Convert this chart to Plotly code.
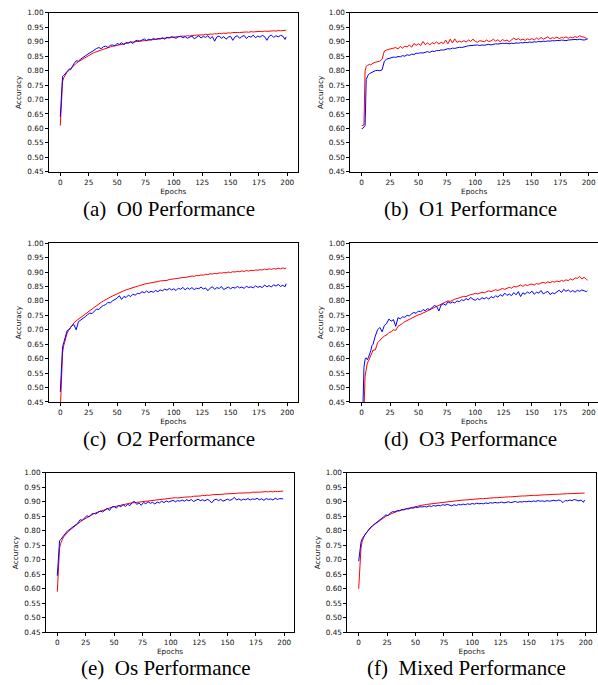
import plotly.graph_objects as go

epochs = list(range(0, 10)) + list(range(10, 200, 2)) + [199]

captions = ["(a)\u00a0 O0 Performance", "(b)\u00a0 O1 Performance", "(c)\u00a0 O2 Performance",
            "(d)\u00a0 O3 Performance", "(e)\u00a0 Os Performance", "(f)\u00a0 Mixed Performance"]

o0_red = [0.610, 0.720, 0.762, 0.775, 0.783, 0.790, 0.795, 0.799, 0.803, 0.807,
          0.811, 0.818, 0.825, 0.831, 0.836, 0.842, 0.847, 0.851, 0.855, 0.859,
          0.863, 0.866, 0.869, 0.872, 0.875, 0.878, 0.880, 0.882, 0.884, 0.886,
          0.888, 0.890, 0.891, 0.893, 0.895, 0.896, 0.898, 0.899, 0.900, 0.902,
          0.903, 0.904, 0.905, 0.906, 0.907, 0.908, 0.909, 0.910, 0.911, 0.912,
          0.912, 0.914, 0.914, 0.915, 0.916, 0.916, 0.917, 0.918, 0.918, 0.920,
          0.919, 0.921, 0.920, 0.922, 0.922, 0.923, 0.923, 0.925, 0.924, 0.926,
          0.925, 0.927, 0.926, 0.928, 0.927, 0.929, 0.928, 0.930, 0.929, 0.931,
          0.930, 0.932, 0.931, 0.932, 0.932, 0.933, 0.933, 0.934, 0.933, 0.935,
          0.934, 0.935, 0.935, 0.936, 0.935, 0.937, 0.936, 0.937, 0.937, 0.938,
          0.937, 0.939, 0.938, 0.939, 0.939, 0.940]
o0_blue = [0.640, 0.740, 0.780, 0.783, 0.788, 0.792, 0.797, 0.800, 0.806, 0.803,
           0.812, 0.824, 0.834, 0.833, 0.840, 0.846, 0.850, 0.855, 0.862, 0.866,
           0.872, 0.877, 0.880, 0.876, 0.883, 0.885, 0.880, 0.888, 0.889, 0.886,
           0.894, 0.891, 0.897, 0.889, 0.898, 0.895, 0.901, 0.894, 0.903, 0.905,
           0.902, 0.907, 0.910, 0.904, 0.909, 0.906, 0.912, 0.908, 0.911, 0.910,
           0.914, 0.909, 0.916, 0.913, 0.918, 0.915, 0.912, 0.917, 0.919, 0.914,
           0.918, 0.912, 0.916, 0.920, 0.910, 0.917, 0.921, 0.913, 0.919, 0.915,
           0.921, 0.911, 0.918, 0.902, 0.917, 0.920, 0.912, 0.918, 0.909, 0.916,
           0.919, 0.905, 0.917, 0.921, 0.912, 0.918, 0.922, 0.911, 0.919, 0.916,
           0.923, 0.914, 0.920, 0.916, 0.922, 0.918, 0.905, 0.919, 0.923, 0.915,
           0.921, 0.917, 0.922, 0.920, 0.908, 0.917]

o1_red = [0.610, 0.610, 0.612, 0.800, 0.815, 0.818, 0.820, 0.822, 0.820, 0.824,
          0.826, 0.829, 0.830, 0.833, 0.840, 0.868, 0.872, 0.874, 0.876, 0.878,
          0.880, 0.875, 0.884, 0.878, 0.885, 0.882, 0.889, 0.881, 0.894, 0.888,
          0.893, 0.887, 0.901, 0.890, 0.896, 0.889, 0.897, 0.893, 0.900, 0.892,
          0.898, 0.894, 0.906, 0.893, 0.909, 0.896, 0.910, 0.898, 0.902, 0.899,
          0.904, 0.899, 0.906, 0.901, 0.909, 0.902, 0.898, 0.904, 0.903, 0.900,
          0.906, 0.901, 0.903, 0.909, 0.902, 0.907, 0.900, 0.908, 0.903, 0.906,
          0.900, 0.905, 0.913, 0.907, 0.911, 0.906, 0.909, 0.905, 0.910, 0.907,
          0.911, 0.906, 0.913, 0.908, 0.915, 0.909, 0.912, 0.917, 0.910, 0.914,
          0.912, 0.916, 0.911, 0.915, 0.913, 0.917, 0.912, 0.916, 0.914, 0.918,
          0.915, 0.921, 0.917, 0.916, 0.912, 0.910]
o1_blue = [0.600, 0.600, 0.605, 0.610, 0.770, 0.782, 0.787, 0.790, 0.792, 0.795,
           0.798, 0.800, 0.801, 0.800, 0.803, 0.833, 0.840, 0.843, 0.845, 0.847,
           0.846, 0.849, 0.848, 0.852, 0.850, 0.855, 0.853, 0.857, 0.856, 0.860,
           0.860, 0.862, 0.861, 0.864, 0.866, 0.863, 0.868, 0.866, 0.870, 0.869,
           0.872, 0.871, 0.874, 0.876, 0.875, 0.878, 0.877, 0.880, 0.881, 0.880,
           0.883, 0.884, 0.886, 0.887, 0.886, 0.888, 0.889, 0.887, 0.889, 0.888,
           0.890, 0.891, 0.889, 0.892, 0.893, 0.892, 0.894, 0.895, 0.894, 0.895,
           0.893, 0.895, 0.894, 0.896, 0.895, 0.897, 0.896, 0.898, 0.897, 0.899,
           0.898, 0.900, 0.899, 0.901, 0.900, 0.902, 0.901, 0.903, 0.902, 0.904,
           0.903, 0.905, 0.904, 0.906, 0.905, 0.904, 0.906, 0.907, 0.906, 0.908,
           0.907, 0.909, 0.907, 0.906, 0.908, 0.910]

o2_red = [0.420, 0.560, 0.620, 0.645, 0.662, 0.675, 0.688, 0.696, 0.702, 0.708,
          0.716, 0.724, 0.731, 0.737, 0.744, 0.750, 0.756, 0.762, 0.768, 0.774,
          0.779, 0.785, 0.790, 0.795, 0.800, 0.805, 0.809, 0.813, 0.817, 0.821,
          0.825, 0.828, 0.832, 0.835, 0.838, 0.841, 0.844, 0.846, 0.849, 0.851,
          0.853, 0.856, 0.857, 0.860, 0.861, 0.862, 0.865, 0.865, 0.867, 0.869,
          0.869, 0.871, 0.871, 0.874, 0.874, 0.876, 0.877, 0.879, 0.879, 0.881,
          0.881, 0.883, 0.884, 0.886, 0.885, 0.888, 0.887, 0.890, 0.889, 0.892,
          0.891, 0.894, 0.893, 0.895, 0.894, 0.897, 0.896, 0.898, 0.897, 0.900,
          0.898, 0.901, 0.900, 0.902, 0.901, 0.904, 0.902, 0.905, 0.903, 0.906,
          0.905, 0.907, 0.906, 0.908, 0.907, 0.910, 0.908, 0.911, 0.909, 0.912,
          0.910, 0.913, 0.911, 0.914, 0.912, 0.914]
o2_blue = [0.485, 0.600, 0.640, 0.655, 0.668, 0.685, 0.697, 0.700, 0.702, 0.708,
           0.713, 0.718, 0.700, 0.728, 0.733, 0.740, 0.745, 0.752, 0.758, 0.756,
           0.765, 0.772, 0.770, 0.779, 0.784, 0.787, 0.795, 0.793, 0.800, 0.804,
           0.809, 0.818, 0.805, 0.815, 0.812, 0.820, 0.815, 0.823, 0.820, 0.826,
           0.825, 0.832, 0.828, 0.834, 0.829, 0.833, 0.830, 0.836, 0.832, 0.838,
           0.835, 0.841, 0.837, 0.843, 0.838, 0.842, 0.836, 0.844, 0.840, 0.847,
           0.838, 0.845, 0.840, 0.846, 0.839, 0.844, 0.842, 0.848, 0.841, 0.845,
           0.835, 0.844, 0.849, 0.840, 0.846, 0.843, 0.850, 0.839, 0.845, 0.848,
           0.842, 0.847, 0.844, 0.850, 0.845, 0.848, 0.843, 0.851, 0.846, 0.849,
           0.845, 0.852, 0.847, 0.850, 0.846, 0.855, 0.849, 0.853, 0.848, 0.856,
           0.851, 0.857, 0.850, 0.854, 0.849, 0.860]

o3_red = [0.300, 0.350, 0.420, 0.540, 0.570, 0.585, 0.592, 0.600, 0.612, 0.620,
          0.630, 0.630, 0.655, 0.665, 0.672, 0.678, 0.682, 0.690, 0.693, 0.700,
          0.698, 0.712, 0.716, 0.722, 0.728, 0.732, 0.735, 0.740, 0.745, 0.748,
          0.752, 0.754, 0.758, 0.760, 0.765, 0.768, 0.772, 0.776, 0.780, 0.786,
          0.789, 0.794, 0.797, 0.800, 0.798, 0.803, 0.806, 0.808, 0.811, 0.814,
          0.816, 0.815, 0.820, 0.822, 0.823, 0.826, 0.824, 0.828, 0.830, 0.828,
          0.833, 0.835, 0.832, 0.837, 0.839, 0.836, 0.841, 0.843, 0.840, 0.845,
          0.847, 0.844, 0.850, 0.848, 0.852, 0.855, 0.850, 0.856, 0.853, 0.857,
          0.858, 0.855, 0.860, 0.858, 0.862, 0.864, 0.861, 0.866, 0.863, 0.867,
          0.865, 0.869, 0.866, 0.871, 0.868, 0.873, 0.870, 0.876, 0.872, 0.880,
          0.878, 0.885, 0.876, 0.882, 0.874, 0.872]
o3_blue = [0.380, 0.420, 0.570, 0.598, 0.603, 0.596, 0.605, 0.615, 0.628, 0.645,
           0.650, 0.678, 0.700, 0.708, 0.693, 0.715, 0.722, 0.737, 0.730, 0.735,
           0.712, 0.742, 0.738, 0.745, 0.743, 0.750, 0.748, 0.755, 0.760, 0.757,
           0.765, 0.762, 0.770, 0.766, 0.773, 0.770, 0.778, 0.784, 0.781, 0.765,
           0.786, 0.790, 0.785, 0.797, 0.792, 0.796, 0.793, 0.800, 0.797, 0.804,
           0.801, 0.808, 0.803, 0.812, 0.806, 0.802, 0.808, 0.804, 0.811, 0.807,
           0.812, 0.806, 0.815, 0.810, 0.818, 0.813, 0.822, 0.816, 0.827, 0.819,
           0.824, 0.818, 0.829, 0.821, 0.832, 0.815, 0.828, 0.823, 0.831, 0.826,
           0.834, 0.823, 0.830, 0.827, 0.836, 0.824, 0.829, 0.833, 0.822, 0.828,
           0.825, 0.832, 0.837, 0.829, 0.840, 0.833, 0.838, 0.831, 0.836, 0.830,
           0.837, 0.833, 0.838, 0.835, 0.832, 0.835]

os_red = [0.590, 0.700, 0.740, 0.757, 0.768, 0.775, 0.781, 0.786, 0.790, 0.794,
          0.798, 0.805, 0.812, 0.818, 0.824, 0.830, 0.836, 0.841, 0.846, 0.850,
          0.854, 0.858, 0.862, 0.865, 0.868, 0.871, 0.874, 0.877, 0.879, 0.881,
          0.883, 0.885, 0.887, 0.889, 0.890, 0.892, 0.893, 0.895, 0.896, 0.897,
          0.898, 0.899, 0.900, 0.901, 0.902, 0.903, 0.904, 0.905, 0.906, 0.907,
          0.907, 0.909, 0.909, 0.911, 0.910, 0.912, 0.912, 0.914, 0.913, 0.915,
          0.915, 0.916, 0.916, 0.918, 0.917, 0.919, 0.919, 0.920, 0.920, 0.922,
          0.921, 0.923, 0.922, 0.924, 0.924, 0.925, 0.925, 0.926, 0.926, 0.927,
          0.927, 0.928, 0.928, 0.929, 0.929, 0.930, 0.930, 0.931, 0.931, 0.932,
          0.931, 0.933, 0.932, 0.933, 0.933, 0.934, 0.933, 0.935, 0.934, 0.936,
          0.934, 0.936, 0.935, 0.936, 0.936, 0.937]
os_blue = [0.645, 0.720, 0.765, 0.770, 0.775, 0.780, 0.784, 0.790, 0.797, 0.800,
           0.802, 0.808, 0.812, 0.820, 0.826, 0.838, 0.836, 0.844, 0.852, 0.848,
           0.857, 0.860, 0.858, 0.864, 0.868, 0.865, 0.872, 0.877, 0.870, 0.882,
           0.884, 0.878, 0.887, 0.883, 0.890, 0.884, 0.891, 0.887, 0.898, 0.901,
           0.891, 0.896, 0.888, 0.898, 0.893, 0.900, 0.895, 0.898, 0.892, 0.899,
           0.896, 0.902, 0.897, 0.903, 0.899, 0.901, 0.905, 0.900, 0.904, 0.902,
           0.906, 0.902, 0.907, 0.903, 0.908, 0.901, 0.906, 0.909, 0.904, 0.907,
           0.903, 0.908, 0.905, 0.896, 0.906, 0.909, 0.904, 0.908, 0.902, 0.907,
           0.909, 0.905, 0.908, 0.915, 0.906, 0.910, 0.905, 0.909, 0.907, 0.911,
           0.906, 0.910, 0.908, 0.912, 0.907, 0.910, 0.905, 0.911, 0.908, 0.910,
           0.906, 0.912, 0.908, 0.911, 0.909, 0.910]

mixed_red = [0.600, 0.700, 0.740, 0.762, 0.775, 0.783, 0.790, 0.795, 0.800, 0.805,
             0.809, 0.816, 0.822, 0.828, 0.834, 0.840, 0.845, 0.850, 0.854, 0.858,
             0.861, 0.864, 0.867, 0.870, 0.872, 0.874, 0.876, 0.878, 0.880, 0.882,
             0.884, 0.885, 0.887, 0.888, 0.890, 0.891, 0.892, 0.893, 0.895, 0.896,
             0.897, 0.898, 0.899, 0.899, 0.900, 0.901, 0.902, 0.903, 0.903, 0.904,
             0.905, 0.906, 0.906, 0.907, 0.907, 0.908, 0.909, 0.909, 0.910, 0.911,
             0.911, 0.912, 0.912, 0.913, 0.913, 0.914, 0.914, 0.915, 0.915, 0.916,
             0.916, 0.917, 0.917, 0.918, 0.918, 0.919, 0.919, 0.920, 0.920, 0.921,
             0.921, 0.921, 0.922, 0.922, 0.923, 0.923, 0.923, 0.924, 0.924, 0.925,
             0.925, 0.925, 0.926, 0.926, 0.927, 0.927, 0.927, 0.928, 0.928, 0.928,
             0.929, 0.929, 0.929, 0.930, 0.930, 0.930]
mixed_blue = [0.695, 0.740, 0.760, 0.772, 0.778, 0.783, 0.790, 0.796, 0.801, 0.806,
              0.810, 0.817, 0.824, 0.830, 0.836, 0.842, 0.848, 0.855, 0.852, 0.862,
              0.866, 0.865, 0.870, 0.869, 0.873, 0.872, 0.876, 0.875, 0.879, 0.878,
              0.881, 0.880, 0.883, 0.882, 0.884, 0.882, 0.886, 0.884, 0.887, 0.885,
              0.888, 0.886, 0.890, 0.888, 0.891, 0.889, 0.886, 0.890, 0.887, 0.891,
              0.889, 0.892, 0.890, 0.893, 0.891, 0.894, 0.892, 0.895, 0.893, 0.894,
              0.893, 0.896, 0.894, 0.897, 0.895, 0.898, 0.896, 0.897, 0.899, 0.896,
              0.898, 0.900, 0.897, 0.899, 0.901, 0.898, 0.900, 0.899, 0.901, 0.900,
              0.902, 0.900, 0.903, 0.901, 0.904, 0.902, 0.903, 0.901, 0.904, 0.902,
              0.903, 0.905, 0.903, 0.906, 0.904, 0.897, 0.905, 0.903, 0.906, 0.904,
              0.908, 0.905, 0.903, 0.906, 0.898, 0.906]

red_series = [o0_red, o1_red, o2_red, o3_red, os_red, mixed_red]
blue_series = [o0_blue, o1_blue, o2_blue, o3_blue, os_blue, mixed_blue]

W, H = 598, 685
# plot boxes in pixels: left, right, top, bottom
boxes = [(49.0, 297.5, 9, 170), (350.4, 598, 9, 170),
         (49.0, 297.5, 242.3, 403.3), (350.4, 598, 242.3, 403.3),
         (46.0, 294.1, 475, 636.7), (347.4, 595.9, 475, 636.7)]
cap_pos = [(168.5, 208), (470.5, 208), (168.5, 440.5), (470.5, 440.5), (166, 673), (466.7, 673)]

fig = go.Figure()
tickfont = dict(family="DejaVu Sans", size=7.3, color="#111111")

for i in range(6):
    xa = "x" if i == 0 else "x%d" % (i + 1)
    ya = "y" if i == 0 else "y%d" % (i + 1)
    fig.add_trace(go.Scatter(x=epochs, y=red_series[i], mode="lines",
                             line=dict(color="#ff0000", width=1), xaxis=xa, yaxis=ya, showlegend=False))
    fig.add_trace(go.Scatter(x=epochs, y=blue_series[i], mode="lines",
                             line=dict(color="#0000ff", width=1), xaxis=xa, yaxis=ya, showlegend=False))
    l, r, t, b = boxes[i]
    xmax = -9.95 + (r - l) / 1.135
    cut = r >= 598
    key = "" if i == 0 else str(i + 1)
    fig.layout["xaxis" + key] = dict(
        domain=[l / W, r / W], range=[-9.95, xmax], anchor=ya,
        tickvals=[0, 25, 50, 75, 100, 125, 150, 175, 200], ticks="outside", ticklen=3,
        tickcolor="black", showline=True, linecolor="black", linewidth=1, mirror=True,
        showgrid=False, zeroline=False, tickfont=tickfont,
        title=dict(text="Epochs", font=tickfont, standoff=2))
    fig.layout["yaxis" + key] = dict(
        domain=[1 - b / H, 1 - t / H], range=[0.45, 1.0], anchor=xa,
        tickvals=[0.45, 0.5, 0.55, 0.6, 0.65, 0.7, 0.75, 0.8, 0.85, 0.9, 0.95, 1.0],
        tickformat=".2f", ticks="outside", ticklen=3, tickcolor="black",
        showline=True, linecolor="black", linewidth=1, mirror=(not cut),
        showgrid=False, zeroline=False, tickfont=tickfont,
        title=dict(text="Accuracy", font=tickfont, standoff=4))
    cx, cy = cap_pos[i]
    fig.add_annotation(x=cx / W, y=1 - cy / H, xref="paper", yref="paper", text=captions[i],
                       showarrow=False, font=dict(family="Liberation Serif", size=21, color="black"),
                       xanchor="center", yanchor="middle")

fig.update_layout(width=W, height=H, margin=dict(l=0, r=0, t=0, b=0),
                  plot_bgcolor="white", paper_bgcolor="white")
# drop the browser's default body margin so the figure sits at the page corner
fig.write_html("out.html", config={"displayModeBar": False},
               post_script="document.body.style.margin='0px';")
